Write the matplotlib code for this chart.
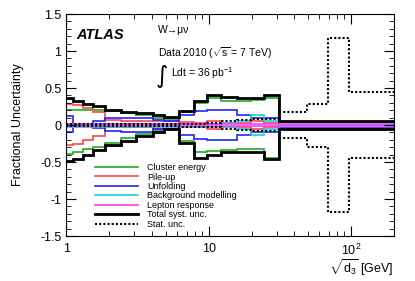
import numpy as np
import matplotlib
matplotlib.use("Agg")
import matplotlib.pyplot as plt
from matplotlib.ticker import MultipleLocator, FixedLocator, FixedFormatter, LogLocator, NullFormatter

plt.rcParams['font.family'] = ['Liberation Sans', 'DejaVu Sans']
plt.rcParams['mathtext.fontset'] = 'custom'
plt.rcParams['mathtext.rm'] = 'Liberation Sans'
plt.rcParams['mathtext.it'] = 'Liberation Sans:italic'

# bin edges in sqrt(d3) [GeV]
edges = [1, 1.116, 1.31, 1.54, 1.86, 2.43, 3.1, 4.05, 4.88, 6.22, 7.92,
         9.8, 12.2, 15.9, 19.7, 24.5, 31.1, 49, 68.8, 97.6, 200]

cluster_up = [0.20, 0.20, 0.21, 0.20, 0.19, 0.16, 0.13, 0.10, 0.08, 0.17,
              0.30, 0.37, 0.33, 0.33, 0.34, 0.37, 0, 0, 0, 0]
cluster_dn = [-0.39, -0.36, -0.33, -0.29, -0.24, -0.18, -0.12, -0.08, -0.05, -0.21,
              -0.37, -0.35, -0.34, -0.33, -0.33, -0.45, 0, 0, 0, 0]
pileup_up = [0.29, 0.27, 0.23, 0.17, 0.07, 0.06, 0.05, 0.06, 0.06, 0.04,
             0.03, 0.06, 0.03, 0.03, 0.06, 0.03, 0, 0, 0, 0]
pileup_dn = [-0.27, -0.25, -0.20, -0.15, -0.03, -0.03, -0.03, -0.05, -0.05, -0.03,
             -0.03, -0.06, -0.03, -0.03, -0.06, -0.03, 0, 0, 0, 0]
unfold_up = [0.12, 0.015, 0.015, 0.06, 0.09, 0.10, 0.10, 0.07, 0.06, 0.13,
             0.19, 0.20, 0.20, 0.13, 0.09, 0.09, 0.035, 0.035, 0.035, 0.035]
unfold_dn = [-0.10, -0.015, -0.015, -0.04, -0.08, -0.09, -0.09, -0.06, -0.05, -0.13,
             -0.19, -0.20, -0.20, -0.13, -0.09, -0.09, -0.035, -0.035, -0.035, -0.035]
bkg_up = [0.02, 0.02, 0.02, 0.02, 0.02, 0.02, 0.02, 0.02, 0.02, 0.02,
          0.02, 0.02, 0.03, 0.06, 0.14, 0.06, 0, 0, 0, 0]
bkg_dn = [-0.02, -0.02, -0.02, -0.02, -0.02, -0.02, -0.02, -0.02, -0.02, -0.02,
          -0.02, -0.02, -0.03, -0.06, -0.13, -0.05, 0, 0, 0, 0]
lepton_up = [0.01] * 20
lepton_dn = [-0.01] * 20
total_up = [0.36, 0.33, 0.28, 0.26, 0.21, 0.18, 0.16, 0.13, 0.11, 0.19,
            0.33, 0.41, 0.38, 0.36, 0.37, 0.40, 0.05, 0.05, 0.05, 0.05]
total_dn = [-0.49, -0.46, -0.40, -0.34, -0.27, -0.21, -0.15, -0.09, -0.06, -0.24,
            -0.44, -0.41, -0.37, -0.37, -0.36, -0.46, -0.05, -0.05, -0.05, -0.05]
stat = [0.01, 0.01, 0.01, 0.01, 0.01, 0.01, 0.01, 0.01, 0.01, 0.02,
        0.02, 0.03, 0.05, 0.07, 0.08, 0.08, 0.18, 0.29, 1.18, 0.45]

fig = plt.figure(figsize=(4.15, 2.81), dpi=100)
ax = fig.add_axes([0.160, 0.160, 0.789, 0.790])

comps = [
    (cluster_up, cluster_dn, '#22aa22', 'Cluster energy'),
    (pileup_up, pileup_dn, '#ff4444', 'Pile-up'),
    (unfold_up, unfold_dn, '#2222ff', 'Unfolding'),
    (bkg_up, bkg_dn, '#22cccc', 'Background modelling'),
    (lepton_up, lepton_dn, '#ee44ee', 'Lepton response'),
]
for up, dn, c, lab in comps:
    ax.stairs(up, edges, baseline=None, color=c, lw=1.2, label=lab)
    ax.stairs(dn, edges, baseline=None, color=c, lw=1.2)

ax.stairs(total_up, edges, baseline=None, color='black', lw=2, label='Total syst. unc.')
ax.stairs(total_dn, edges, baseline=None, color='black', lw=2)
ax.stairs(stat, edges, baseline=None, color='black', lw=1.5, ls=(0, (1, 1)), label='Stat. unc.')
ax.stairs(-np.array(stat), edges, baseline=None, color='black', lw=1.5, ls=(0, (1, 1)))

ax.set_xscale('log')
ax.set_xlim(1, 200)
ax.set_ylim(-1.5, 1.5)
ax.xaxis.set_major_locator(FixedLocator([1, 10, 100]))
ax.xaxis.set_major_formatter(FixedFormatter(['1', '10', '$10^2$']))
ax.xaxis.set_minor_locator(LogLocator(base=10, subs=np.arange(2, 10), numticks=20))
ax.xaxis.set_minor_formatter(NullFormatter())
ax.yaxis.set_minor_locator(MultipleLocator(0.1))
ax.set_yticks([-1.5, -1, -0.5, 0, 0.5, 1, 1.5])
ax.set_yticklabels(['-1.5', '-1', '-0.5', '0', '0.5', '1', '1.5'])
ax.tick_params(which='both', direction='in', top=True, right=True, labelsize=9)
ax.tick_params(which='major', length=7)
ax.tick_params(which='minor', length=3.5)
ax.tick_params(axis='x', pad=5)

ax.set_ylabel('Fractional Uncertainty', fontsize=9)
ax.yaxis.set_label_coords(-0.13, 0.5)
ax.set_xlabel(r'$\sqrt{\mathrm{d}_3}$ [GeV]', fontsize=9)
ax.xaxis.set_label_coords(1.0, -0.095)
ax.xaxis.label.set_ha('right')
ax.xaxis.label.set_va('top')

ax.text(0.03, 0.935, 'ATLAS', transform=ax.transAxes, fontsize=10.5,
        fontweight='bold', style='italic', va='top')
ax.text(0.28, 0.95, 'W→μν', transform=ax.transAxes, fontsize=7.5, va='top')
ax.text(0.28, 0.86, r'Data 2010 ($\sqrt{\mathrm{s}}$ = 7 TeV)', transform=ax.transAxes,
        fontsize=7.5, va='top')
ax.text(0.273, 0.72, '∫', transform=ax.transAxes, fontsize=17, va='center',
        family='DejaVu Sans')
ax.text(0.318, 0.735, r'Ldt = 36 pb$^{-1}$', transform=ax.transAxes,
        fontsize=7.5, va='center')

ax.legend(loc='upper left', bbox_to_anchor=(0.075, 0.345), frameon=False,
          fontsize=6.5, handlelength=4.8, labelspacing=0.05, handletextpad=1.0,
          borderaxespad=0)

fig.savefig('out.png', dpi=100)
